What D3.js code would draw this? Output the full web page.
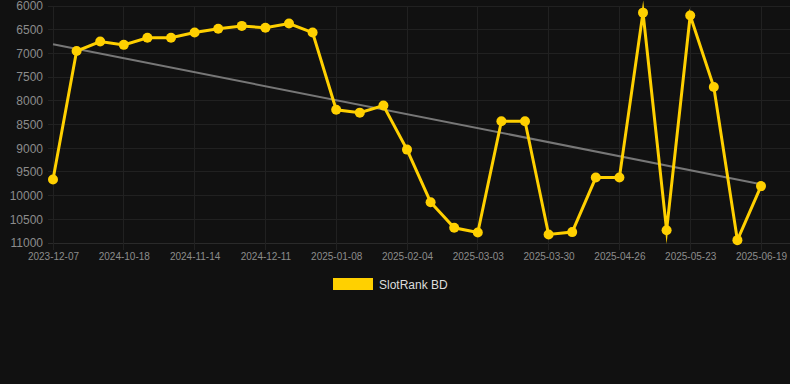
<!DOCTYPE html>
<html>
<head>
<meta charset="utf-8">
<script src="https://cdn.jsdelivr.net/npm/d3@7/dist/d3.min.js"></script>
<style>
  html, body { margin: 0; padding: 0; background: #111111; }
  svg { display: block; }
</style>
</head>
<body>
<svg id="chart" width="790" height="384"></svg>
<script>
const categories = [
  "2023-12-07", "2024-09-30", "2024-10-09", "2024-10-18", "2024-10-27", "2024-11-05",
  "2024-11-14", "2024-11-23", "2024-12-02", "2024-12-11", "2024-12-20", "2024-12-29",
  "2025-01-08", "2025-01-17", "2025-01-26", "2025-02-04", "2025-02-13", "2025-02-22",
  "2025-03-03", "2025-03-12", "2025-03-21", "2025-03-30", "2025-04-08", "2025-04-17",
  "2025-04-26", "2025-05-05", "2025-05-14", "2025-05-23", "2025-06-01", "2025-06-10",
  "2025-06-19"
];
const rankValues = [
  9660, 6950, 6750, 6820, 6670, 6670,
  6560, 6480, 6420, 6460, 6370, 6560,
  8190, 8250, 8100, 9030, 10140, 10680,
  10780, 8430, 8430, 10820, 10770, 9620,
  9620, 6140, 10730, 6200, 7710, 10940,
  9800
];
const yTicks = [6000, 6500, 7000, 7500, 8000, 8500, 9000, 9500, 10000, 10500, 11000];
const seriesName = "SlotRank BD";

(function () {
const svg = d3.select("#chart");
const W = 790;
const pL = 53, pR = 761, pT = 6, pB = 243;
const yellow = "#FFD000";
const font = "Liberation Sans, Arial, sans-serif";

const x = d3.scalePoint().domain(categories).range([pL, pR]);
const y = d3.scaleLinear().domain([6000, 11000]).range([pT, pB]);

// grid
const grid = svg.append("g");
grid.selectAll("line.h").data(yTicks).enter().append("line")
  .attr("x1", 48).attr("x2", W).attr("y1", d => y(d)).attr("y2", d => y(d))
  .attr("stroke", d => d === 11000 ? "#2a2a2a" : "#212121").attr("stroke-width", 1).attr("shape-rendering", "crispEdges");
const xTickCats = categories.filter((d, i) => i % 3 === 0);
grid.selectAll("line.v").data(xTickCats).enter().append("line")
  .attr("x1", d => x(d)).attr("x2", d => x(d)).attr("y1", pT).attr("y2", pB + 7)
  .attr("stroke", "#212121").attr("stroke-width", 1).attr("shape-rendering", "crispEdges");

// y axis labels
const yAxis = d3.axisLeft(y).tickValues(yTicks).tickSize(0).tickPadding(0).tickFormat(d3.format("d"));
const gy = svg.append("g").attr("transform", "translate(43,0)").call(yAxis);
gy.select(".domain").remove();
gy.selectAll("text").attr("fill", "#8c8c8c").style("font-family", font).style("font-size", "12px");

// x axis labels
const xAxis = d3.axisBottom(x).tickValues(xTickCats).tickSize(0).tickPadding(0);
const gx = svg.append("g").attr("transform", `translate(0,${pB + 10})`).call(xAxis);
gx.select(".domain").remove();
gx.selectAll("text").attr("fill", "#8c8c8c").style("font-family", font).style("font-size", "10px");

// trend (linear regression)
const n = rankValues.length;
const xs = d3.range(n);
const mx = d3.mean(xs), my = d3.mean(rankValues);
const slope = d3.sum(xs, i => (i - mx) * (rankValues[i] - my)) / d3.sum(xs, i => (i - mx) ** 2);
const icpt = my - slope * mx;
svg.append("line")
  .attr("x1", x(categories[0])).attr("y1", y(icpt))
  .attr("x2", x(categories[n - 1])).attr("y2", y(icpt + slope * (n - 1)))
  .attr("stroke", "#777777").attr("stroke-width", 2);

// series line
const line = d3.line().x((d, i) => x(categories[i])).y(d => y(d));
svg.append("path").datum(rankValues)
  .attr("d", line).attr("fill", "none").attr("stroke", yellow)
  .attr("stroke-width", 3).attr("stroke-linejoin", "miter").attr("stroke-miterlimit", 10);

svg.append("g").selectAll("circle").data(rankValues).enter().append("circle")
  .attr("cx", (d, i) => x(categories[i])).attr("cy", d => y(d)).attr("r", 5)
  .attr("fill", yellow);

// legend
svg.append("rect").attr("x", 333).attr("y", 278).attr("width", 40).attr("height", 12).attr("fill", yellow);
svg.append("text").attr("x", 379).attr("y", 288.5).text(seriesName)
  .attr("fill", "#dddddd").style("font-family", font).style("font-size", "12px");
})();
</script>
</body>
</html>
